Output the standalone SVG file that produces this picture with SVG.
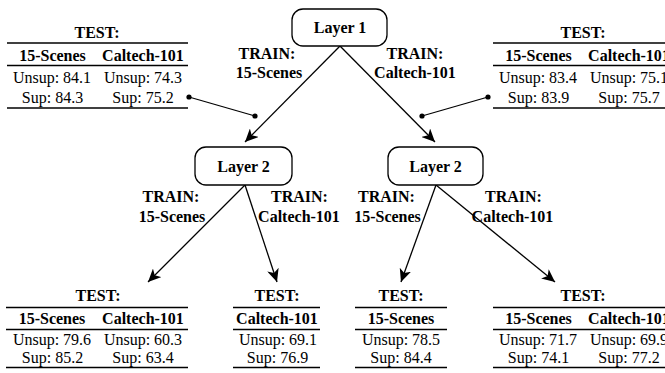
<svg xmlns="http://www.w3.org/2000/svg" width="665" height="373" viewBox="0 0 665 373" font-family="'Liberation Serif', 'Times New Roman', Times, 'DejaVu Serif', serif">
<style>
text{font-size:16px;fill:#000;text-anchor:middle}
.b{font-weight:bold}
.rule{stroke:#000;stroke-width:1.3}
.box{fill:#fff;stroke:#000;stroke-width:1.3}
.edge{stroke:#000;stroke-width:1.3;fill:none}
</style>
<defs>
<marker id="arr" markerUnits="userSpaceOnUse" markerWidth="14" markerHeight="12" viewBox="0 0 14 12" refX="13" refY="6" orient="auto">
<path d="M0,0 L13,6 L0,12 L3.5,6 z" fill="#000"/>
</marker>
<marker id="dot" markerUnits="userSpaceOnUse" markerWidth="6" markerHeight="6" viewBox="0 0 6 6" refX="3" refY="3">
<circle cx="3" cy="3" r="2.6" fill="#000"/>
</marker>
</defs>
<g id="connectors">
<line class="edge" x1="340" y1="46" x2="245" y2="142" marker-end="url(#arr)"/>
<line class="edge" x1="340" y1="46" x2="435" y2="142" marker-end="url(#arr)"/>
<line class="edge" x1="245" y1="185" x2="148" y2="282" marker-end="url(#arr)"/>
<line class="edge" x1="245" y1="185" x2="277" y2="282" marker-end="url(#arr)"/>
<line class="edge" x1="436" y1="185" x2="401" y2="282" marker-end="url(#arr)"/>
<line class="edge" x1="436" y1="185" x2="555" y2="282" marker-end="url(#arr)"/>
<line class="edge" x1="189" y1="97" x2="255" y2="116" marker-start="url(#dot)" marker-end="url(#dot)"/>
<line class="edge" x1="422" y1="116" x2="488" y2="97" marker-start="url(#dot)" marker-end="url(#dot)"/>
<text class="b" x="267" y="59">TRAIN:</text>
<text class="b" x="269" y="78">15-Scenes</text>
<text class="b" x="415" y="59">TRAIN:</text>
<text class="b" x="415" y="78">Caltech-101</text>
<text class="b" x="171" y="202">TRAIN:</text>
<text class="b" x="172" y="222">15-Scenes</text>
<text class="b" x="299.5" y="202">TRAIN:</text>
<text class="b" x="299" y="222">Caltech-101</text>
<text class="b" x="386.5" y="202">TRAIN:</text>
<text class="b" x="387.5" y="222">15-Scenes</text>
<text class="b" x="513.5" y="202">TRAIN:</text>
<text class="b" x="512.5" y="222">Caltech-101</text>
</g>
<g id="layer1">
<rect class="box" x="292" y="9" width="95" height="37" rx="11"/>
<text class="b" x="340" y="33">Layer 1</text>
</g>
<g id="layer2-left">
<rect class="box" x="195" y="147" width="97" height="38" rx="11"/>
<text class="b" x="243.5" y="172">Layer 2</text>
</g>
<g id="layer2-right">
<rect class="box" x="388" y="147" width="95" height="38" rx="11"/>
<text class="b" x="435.5" y="172">Layer 2</text>
</g>
<g id="table-top-left">
<text class="b" x="97" y="38">TEST:</text>
<line class="rule" x1="7" y1="43" x2="188" y2="43"/>
<text class="b" x="52.5" y="61">15-Scenes</text>
<text class="b" x="143" y="61">Caltech-101</text>
<line class="rule" x1="7" y1="65.5" x2="188" y2="65.5"/>
<text x="52" y="83">Unsup: 84.1</text>
<text x="143" y="83">Unsup: 74.3</text>
<text x="52.5" y="103">Sup: 84.3</text>
<text x="143" y="103">Sup: 75.2</text>
<line class="rule" x1="7" y1="108" x2="188" y2="108"/>
</g>
<g id="table-top-right">
<text class="b" x="583" y="38">TEST:</text>
<line class="rule" x1="493" y1="43" x2="674" y2="43"/>
<text class="b" x="538.5" y="61">15-Scenes</text>
<text class="b" x="629" y="61">Caltech-101</text>
<line class="rule" x1="493" y1="65.5" x2="674" y2="65.5"/>
<text x="538" y="83">Unsup: 83.4</text>
<text x="629" y="83">Unsup: 75.1</text>
<text x="538.5" y="103">Sup: 83.9</text>
<text x="629" y="103">Sup: 75.7</text>
<line class="rule" x1="493" y1="108" x2="674" y2="108"/>
</g>
<g id="table-bottom-1">
<text class="b" x="98" y="301">TEST:</text>
<line class="rule" x1="6" y1="307.5" x2="188" y2="307.5"/>
<text class="b" x="52" y="324">15-Scenes</text>
<text class="b" x="143" y="324">Caltech-101</text>
<line class="rule" x1="6" y1="329.5" x2="188" y2="329.5"/>
<text x="52" y="345">Unsup: 79.6</text>
<text x="143" y="345">Unsup: 60.3</text>
<text x="52.5" y="363">Sup: 85.2</text>
<text x="143" y="363">Sup: 63.4</text>
<line class="rule" x1="6" y1="367.5" x2="188" y2="367.5"/>
</g>
<g id="table-bottom-2">
<text class="b" x="277" y="301">TEST:</text>
<line class="rule" x1="233" y1="307.5" x2="320" y2="307.5"/>
<text class="b" x="277" y="324">Caltech-101</text>
<line class="rule" x1="233" y1="329.5" x2="320" y2="329.5"/>
<text x="278" y="345">Unsup: 69.1</text>
<text x="277.5" y="363">Sup: 76.9</text>
<line class="rule" x1="233" y1="367.5" x2="320" y2="367.5"/>
</g>
<g id="table-bottom-3">
<text class="b" x="401" y="301">TEST:</text>
<line class="rule" x1="355" y1="307.5" x2="447" y2="307.5"/>
<text class="b" x="401" y="324">15-Scenes</text>
<line class="rule" x1="355" y1="329.5" x2="447" y2="329.5"/>
<text x="401" y="345">Unsup: 78.5</text>
<text x="401" y="363">Sup: 84.4</text>
<line class="rule" x1="355" y1="367.5" x2="447" y2="367.5"/>
</g>
<g id="table-bottom-4">
<text class="b" x="583" y="301">TEST:</text>
<line class="rule" x1="493" y1="307.5" x2="674" y2="307.5"/>
<text class="b" x="538.5" y="324">15-Scenes</text>
<text class="b" x="629" y="324">Caltech-101</text>
<line class="rule" x1="493" y1="329.5" x2="674" y2="329.5"/>
<text x="538" y="345">Unsup: 71.7</text>
<text x="629" y="345">Unsup: 69.9</text>
<text x="538.5" y="363">Sup: 74.1</text>
<text x="629" y="363">Sup: 77.2</text>
<line class="rule" x1="493" y1="367.5" x2="674" y2="367.5"/>
</g>
</svg>
